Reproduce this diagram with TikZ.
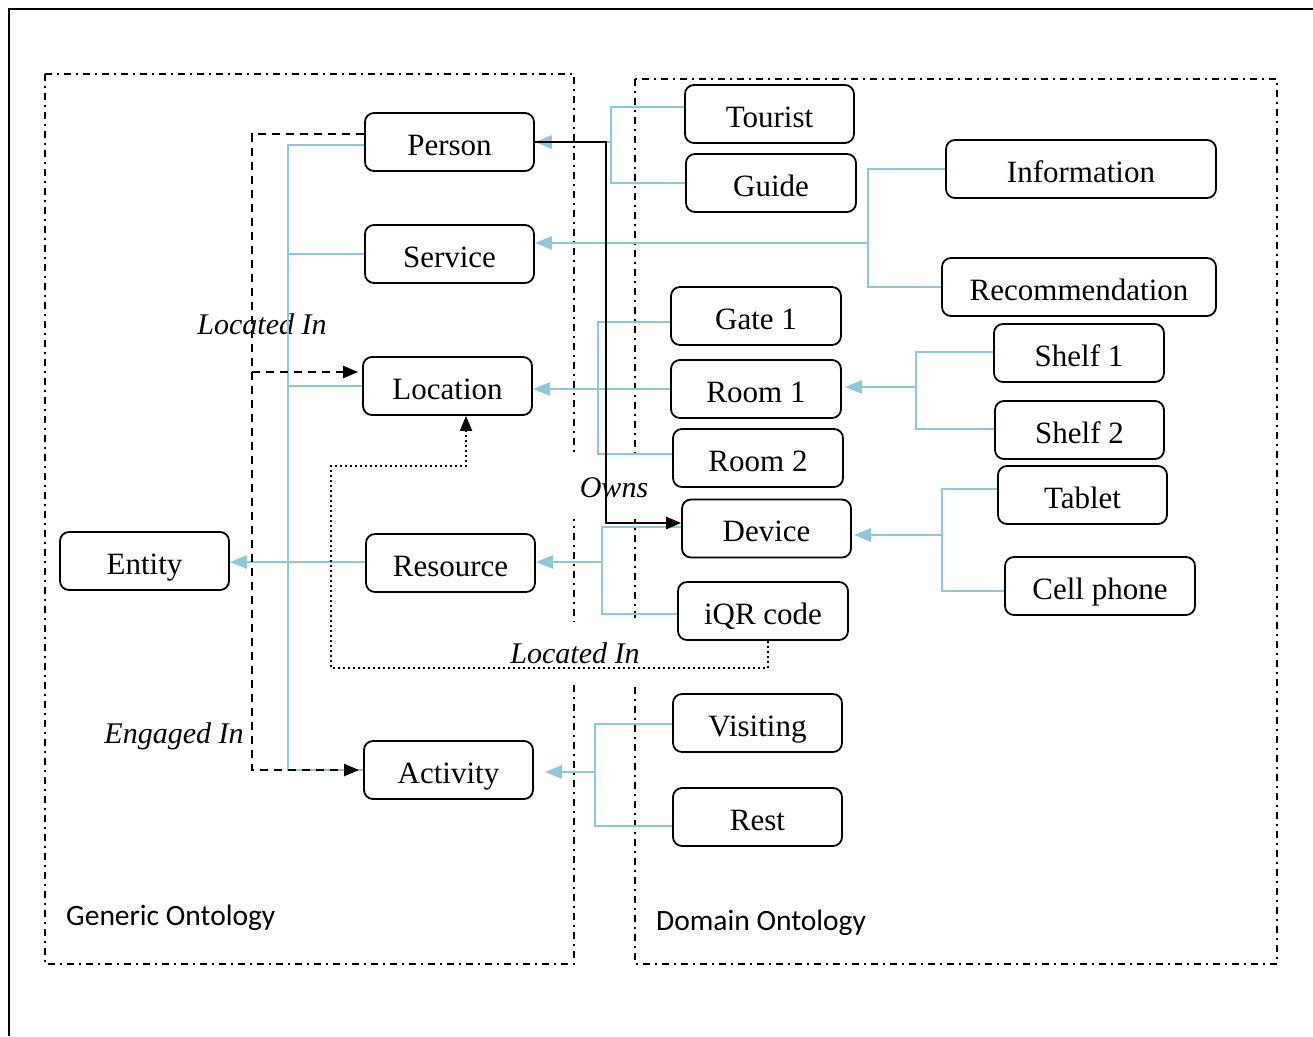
\documentclass[tikz,border=0pt]{standalone}
\usepackage{fontspec}
\setmainfont{Liberation Serif}
\newfontfamily\groupfont{Carlito}
\usetikzlibrary{arrows.meta,calc}
\definecolor{linkblue}{RGB}{140,200,216}

\begin{document}
\begin{tikzpicture}[x=1pt,y=-1pt,
  cls/.style={draw,line width=1.8pt,rounded corners=9pt,minimum height=58pt,
    inner sep=0pt,text height=30pt,text depth=4pt,font=\fontsize{31}{37}\selectfont},
  isa/.style={draw=linkblue,line width=2.6pt},
  isaarrow/.style={isa,-{Triangle[length=17pt,width=13pt]}},
  owns/.style={draw,line width=2.6pt,-{Triangle[length=15pt,width=12pt]}},
  dashline/.style={draw,line width=2.2pt,dash pattern=on 8pt off 6pt},
  dotline/.style={draw,line width=2pt,dash pattern=on 2pt off 3pt},
  rel/.style={font=\fontsize{30}{36}\selectfont\itshape,inner sep=0pt},
  group/.style={line width=1.8pt,dash pattern=on 7pt off 5pt on 2pt off 5pt},
  grouplabel/.style={font=\groupfont\fontsize{29.5}{35}\selectfont,anchor=west,inner sep=0pt},
]
\useasboundingbox (0,0) rectangle (1313,1036);

% outer frame
\draw[line width=2.8pt] (9,1036) -- (9,9) -- (1313,9);

% ontology groups
\draw[group] (45,74) rectangle (574,964);
\draw[group] (635,79) rectangle (1277,964);
\node[grouplabel] (genericlabel) at (66,918) {Generic Ontology};
\node[grouplabel] (domainlabel) at (656,923) {Domain Ontology};

% relation labels
\node[rel] (locatedtop) at (262,324) {Located In};
\node[rel,fill=white,minimum width=84pt,minimum height=62pt] (ownslabel) at (614,488) {Owns};
\node[rel,fill=white,minimum width=140pt,minimum height=62pt] (locatedbot) at (575,653) {Located In};
\node[rel] (engaged) at (174,736) {Engaged In};

% generic classes
\node[cls,minimum width=169pt] (person)   at (449.5,142) {Person};
\node[cls,minimum width=169pt] (service)  at (449.5,254) {Service};
\node[cls,minimum width=169pt] (location) at (447.5,386) {Location};
\node[cls,minimum width=169pt] (resource) at (450.5,563) {Resource};
\node[cls,minimum width=169pt] (activity) at (448.5,770) {Activity};
\node[cls,minimum width=169pt] (entity)   at (144.5,561) {Entity};

% domain classes
\node[cls,minimum width=169pt] (tourist)  at (769.5,114) {Tourist};
\node[cls,minimum width=170pt] (guide)    at (771,183) {Guide};
\node[cls,minimum width=270pt] (information) at (1081,169) {Information};
\node[cls,minimum width=274pt] (recommendation) at (1079,287) {Recommendation};
\node[cls,minimum width=170pt] (gate1)    at (756,316) {Gate 1};
\node[cls,minimum width=170pt] (room1)    at (756,389) {Room 1};
\node[cls,minimum width=170pt] (room2)    at (758,458) {Room 2};
\node[cls,minimum width=169pt] (device)   at (766.5,528.5) {Device};
\node[cls,minimum width=170pt] (iqr)      at (763,611) {iQR code};
\node[cls,minimum width=170pt] (shelf1)   at (1079,353) {Shelf 1};
\node[cls,minimum width=169pt] (shelf2)   at (1079.5,430) {Shelf 2};
\node[cls,minimum width=169pt] (tablet)   at (1082.5,495) {Tablet};
\node[cls,minimum width=190pt] (cellphone) at (1100,586) {Cell phone};
\node[cls,minimum width=169pt] (visiting) at (757.5,723) {Visiting};
\node[cls,minimum width=169pt] (rest)     at (757.5,817) {Rest};

% generic hierarchy into Entity
\draw[isa] ($(person.west)+(0,3)$) -- (288,145) -- (288,770) -- (activity.west);
\draw[isa] (service.west) -- (288,254);
\draw[isa] (location.west) -- (288,386);
\draw[isaarrow] ($(resource.west)+(0,-1)$) -- (entity.east |- 288,562);

% Tourist, Guide -> Person
\draw[isa] ($(tourist.west)+(0,-7)$) -- (611,107) -- (611,183) -- (guide.west);
\draw[isaarrow] (611,142) -- (person.east);

% Information, Recommendation -> Service
\draw[isa] (information.west) -- (868,169) -- (868,287) -- (recommendation.west);
\draw[isaarrow] (868,243) -- (service.east |- 868,243);

% Gate 1, Room 1, Room 2 -> Location
\draw[isa] ($(gate1.west)+(0,6)$) -- (598,322) -- (598,454) -- ($(room2.west)+(0,-4)$);
\draw[isaarrow] (room1.west) -- (location.east |- room1.west);

% Shelf 1, Shelf 2 -> Room 1
\draw[isa] ($(shelf1.west)+(0,-1)$) -- (916,352) -- (916,429) -- ($(shelf2.west)+(0,-1)$);
\draw[isaarrow,shorten >=3pt] (916,387) -- (room1.east |- 916,387);

% Tablet, Cell phone -> Device
\draw[isa] ($(tablet.west)+(0,-6)$) -- (942,489) -- (942,591) -- ($(cellphone.west)+(0,5)$);
\draw[isaarrow,shorten >=2pt] (942,535) -- (device.east |- 942,535);

% Device, iQR code -> Resource
\draw[isa] ($(device.west)+(0,-1.5)$) -- (602,527) -- (602,614) -- ($(iqr.west)+(0,3)$);
\draw[isaarrow] (602,562) -- (resource.east |- 602,562);

% Visiting, Rest -> Activity
\draw[isa] ($(visiting.west)+(0,1)$) -- (595,724) -- (595,826) -- ($(rest.west)+(0,9)$);
\draw[isaarrow,shorten >=11pt] (595,772) -- (activity.east |- 595,772);

% Person owns Device
\draw[owns] (person.east) -| (606,523) -- (device.west |- 606,523);

% Person located in Location, engaged in Activity
\draw[dashline,-{Triangle[length=15pt,width=12pt]},shorten >=4pt]
  ($(person.west)+(0,-8)$) -| (252,770) -- (activity.west);
\draw[dashline,-{Triangle[length=15pt,width=12pt]},shorten >=4pt]
  (252,372) -- (location.west |- 252,372);

% iQR code located in Location
\draw[dotline,-{Triangle[length=15pt,width=12pt]}]
  ($(iqr.south)+(5,0)$) -- (768,668) -- (331,668) -- (331,466) -- (466,466)
  -- (location.south -| 466,466);
\end{tikzpicture}
\end{document}
